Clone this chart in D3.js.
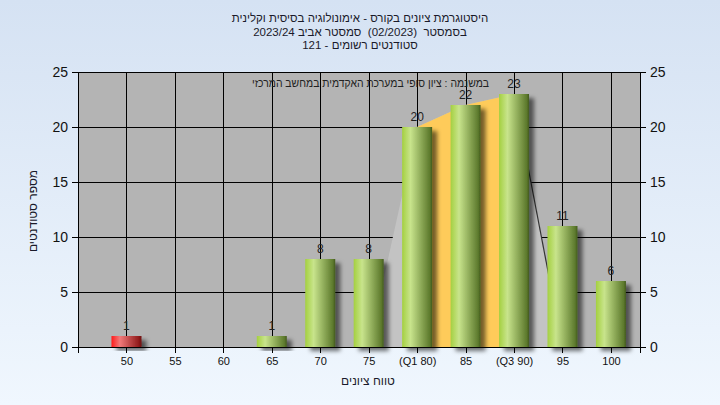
<!DOCTYPE html>
<html><head><meta charset="utf-8">
<script src="https://cdn.jsdelivr.net/npm/d3@7"></script>
<style>html,body{margin:0;padding:0;background:#fff}svg{display:block}text{white-space:pre}</style>
</head><body>
<script>
const categories = [50, 55, 60, 65, 70, 75, 80, 85, 90, 95, 100];
const tickLabels = ["50", "55", "60", "65", "70", "75", "(Q1 80)", "85", "(Q3 90)", "95", "100"];
const counts = [1, 0, 0, 1, 8, 8, 20, 22, 23, 11, 6];
const passGrade = 55;
const rangeX = [75, 80, 85, 90, 95];
const rangeY = [0, 20, 22, 23, 0];
const quartileX = [80, 85, 90];
const quartileY = [20, 22, 23];
const yTicks = [0, 5, 10, 15, 20, 25];
const titleLines = [
  "היסטוגרמת ציונים בקורס - אימונולוגיה בסיסית וקלינית",
  "בסמסטר  (02/2023)  סמסטר אביב 2023/24",
  "סטודנטים רשומים - 121"
];
const noteText = "במשנמה : ציון סופי במערכת האקדמית במחשב המרכזי";
const xTitle = "טווח ציונים";
const yTitle = "מספר סטודנטים";

const W = 720, H = 405;
const font = "'Liberation Sans', Arial, sans-serif";
const svg = d3.select("body").append("svg").attr("width", W).attr("height", H);
const defs = svg.append("defs");

const bg = defs.append("linearGradient").attr("id", "bg").attr("x1", 0).attr("y1", 0).attr("x2", 0).attr("y2", 1);
bg.append("stop").attr("offset", "0%").attr("stop-color", "#d5e2f3");
bg.append("stop").attr("offset", "100%").attr("stop-color", "#f0f7fe");

function barGrad(id, c0, c1, c2, c3) {
  const g = defs.append("linearGradient").attr("id", id).attr("x1", 0).attr("y1", 0).attr("x2", 1).attr("y2", 0);
  g.append("stop").attr("offset", "0%").attr("stop-color", c0);
  g.append("stop").attr("offset", "28%").attr("stop-color", c1);
  g.append("stop").attr("offset", "92%").attr("stop-color", c2);
  g.append("stop").attr("offset", "100%").attr("stop-color", c3);
}
barGrad("gGreen", "#a4d040", "#c8e48c", "#5d7a2d", "#435a1e");
barGrad("gRed", "#ff1a1a", "#f27a7a", "#8f1a1a", "#6a0e0e");

const sh = defs.append("filter").attr("id", "shadow").attr("x", "-30%").attr("y", "-30%").attr("width", "180%").attr("height", "160%");
sh.append("feDropShadow").attr("dx", 5).attr("dy", 4).attr("stdDeviation", 2.2).attr("flood-color", "#000").attr("flood-opacity", 0.55);

svg.append("rect").attr("width", W).attr("height", H).attr("fill", "url(#bg)");

const x = d3.scaleLinear().domain([45, 103]).range([78, 640]);
const y = d3.scaleLinear().domain([0, 25]).range([347, 72]);

// plot background
svg.append("rect").attr("x", x(45)).attr("y", y(25)).attr("width", x(103) - x(45)).attr("height", y(0) - y(25)).attr("fill", "#b4b4b4");

// grid
const grid = svg.append("g").attr("stroke", "#000").attr("stroke-width", 1).attr("shape-rendering", "crispEdges");
yTicks.forEach(t => grid.append("line").attr("x1", x(45)).attr("x2", x(103)).attr("y1", Math.round(y(t)) + 0.5).attr("y2", Math.round(y(t)) + 0.5));
categories.forEach(c => grid.append("line").attr("x1", Math.round(x(c)) + 0.5).attr("x2", Math.round(x(c)) + 0.5).attr("y1", y(25)).attr("y2", y(0)));

// areas
const area = d3.area().x(d => x(d[0])).y0(y(0)).y1(d => y(d[1]));
svg.append("path").datum(rangeX.map((v, i) => [v, rangeY[i]])).attr("d", area).attr("fill", "#c3c3c3");
svg.append("path").datum(quartileX.map((v, i) => [v, quartileY[i]])).attr("d", area).attr("fill", "#fecb5a");
svg.append("line").attr("x1", x(rangeX[3])).attr("y1", y(rangeY[3])).attr("x2", x(rangeX[4])).attr("y2", y(rangeY[4]))
  .attr("stroke", "#333").attr("stroke-width", 1.2);

// note text
svg.append("text").attr("x", 370.5).attr("y", 86.5).attr("text-anchor", "middle").attr("direction", "rtl")
  .attr("textLength", 237).attr("lengthAdjust", "spacingAndGlyphs")
  .attr("font-family", font).attr("font-size", 11).attr("fill", "#222").text(noteText);

// bars
const bw = 30;
const data = categories.map((c, i) => ({c, v: counts[i]}));
svg.append("g").selectAll("rect").data(data.filter(d => d.v > 0)).join("rect")
  .attr("x", d => x(d.c) - bw / 2).attr("y", d => y(d.v)).attr("width", bw).attr("height", d => y(0) - y(d.v))
  .attr("fill", d => d.c < passGrade ? "url(#gRed)" : "url(#gGreen)").attr("filter", "url(#shadow)");

svg.append("g").selectAll("text").data(data.filter(d => d.v > 0)).join("text")
  .attr("x", d => x(d.c)).attr("y", d => y(d.v) - 6).attr("text-anchor", "middle")
  .attr("font-family", font).attr("font-size", 12).attr("fill", "#222").text(d => d.v);

// axes
const axL = svg.append("g").attr("transform", `translate(${x(45)},0)`)
  .call(d3.axisLeft(y).tickValues(yTicks).tickSize(6).tickPadding(4));
const axR = svg.append("g").attr("transform", `translate(${x(103)},0)`)
  .call(d3.axisRight(y).tickValues(yTicks).tickSize(6).tickPadding(4));
const axB = svg.append("g").attr("transform", `translate(0,${y(0)})`)
  .call(d3.axisBottom(x).tickValues(categories).tickFormat((d, i) => tickLabels[i]).tickSize(6).tickPadding(4));
[axL, axR].forEach(a => {
  a.selectAll("text").attr("font-family", font).attr("font-size", 14).attr("fill", "#111");
});
axB.selectAll("text").attr("font-family", font).attr("font-size", 11).attr("fill", "#111");
[axL, axR, axB].forEach(a => {
  a.select(".domain").attr("stroke", "#000").attr("shape-rendering", "crispEdges");
  a.selectAll(".tick line").attr("stroke", "#000").attr("shape-rendering", "crispEdges");
});
axB.select(".domain").attr("d", `M${x(45)},6V0H${x(103)}V6`);

// titles
titleLines.forEach((t, i) => {
  svg.append("text").attr("x", 360).attr("y", 22 + i * 13.5).attr("text-anchor", "middle").attr("direction", "rtl")
    .attr("font-family", font).attr("font-size", 11.5).attr("fill", "#1a1a2a").text(t);
});
svg.append("text").attr("x", 368).attr("y", 385).attr("text-anchor", "middle").attr("direction", "rtl")
  .attr("font-family", font).attr("font-size", 12).attr("fill", "#1a1a2a").text(xTitle);
svg.append("text").attr("transform", "translate(37,211) rotate(-90)").attr("text-anchor", "middle").attr("direction", "rtl")
  .attr("font-family", font).attr("font-size", 12).attr("fill", "#1a1a2a").text(yTitle);
</script>
</body></html>
